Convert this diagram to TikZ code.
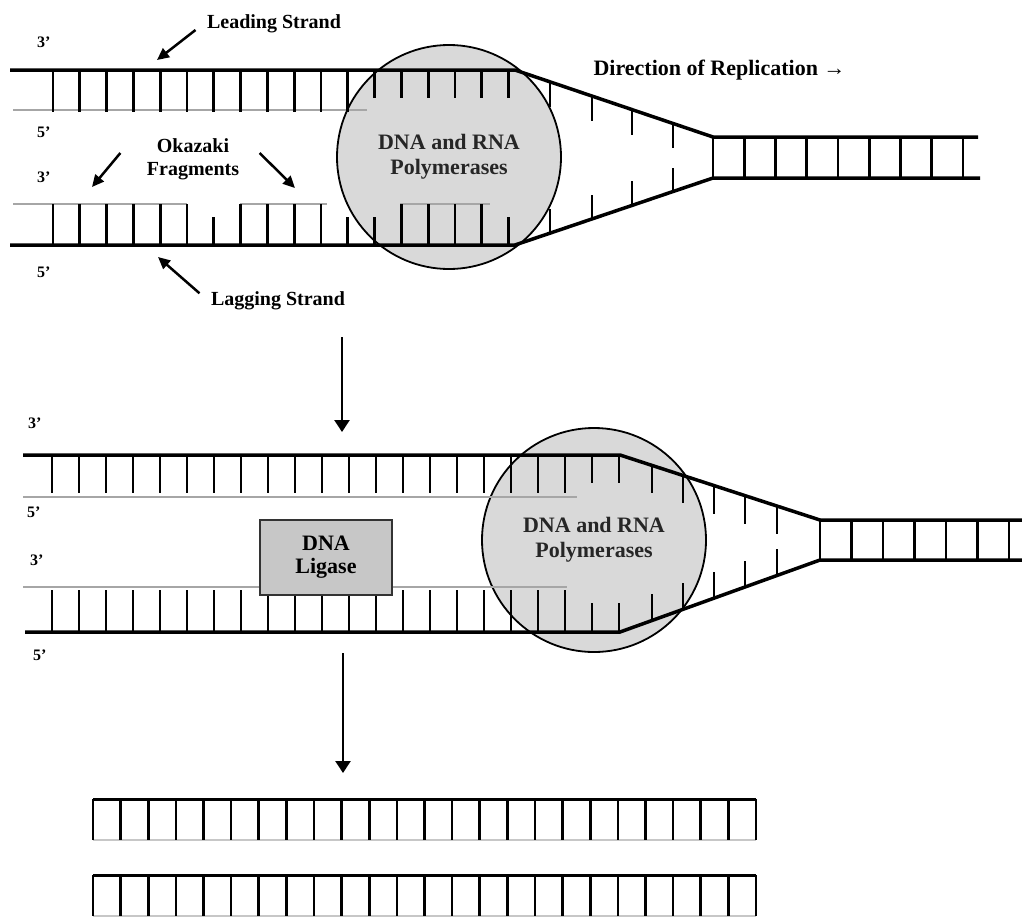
\documentclass[tikz,border=0pt]{standalone}
\usepackage{fontspec}
\setmainfont{Liberation Serif}
\usetikzlibrary{arrows.meta}

\begin{document}
\begin{tikzpicture}[x=1pt, y=-1pt,
strand/.style={line width=3.5pt},
rung/.style={line width=2.8pt},
newstrand/.style={line width=1.5pt, draw=black!35},
poly/.style={circle, draw=black, line width=1.8pt, fill=black!15, minimum size=224pt,
align=center, text=black!85, font=\bfseries\fontsize{22}{25}\selectfont},
ligase/.style={rectangle, draw=black!80, line width=1.8pt, fill=black!22,
minimum width=132pt, minimum height=75pt, align=center, font=\bfseries\fontsize{22}{23}\selectfont},
tag/.style={align=center, font=\bfseries\fontsize{20}{23}\selectfont},
prime/.style={anchor=base west, inner sep=0pt, font=\bfseries\fontsize{16}{18}\selectfont},
line/.style={draw, line width=2.5pt, -{Triangle[length=12pt, width=11pt]}},
bigline/.style={draw, line width=2.5pt, -{Triangle[length=12pt, width=15pt]}}
]
\fill[white] (0,0) rectangle (1022,919);
\useasboundingbox (0,0) rectangle (1022,919);

% replication fork, first stage
\node [poly] (polyA) at (449,157) {DNA and RNA\\Polymerases};
\draw [newstrand] (13,110) -- (367,110);
\draw [strand] (10,70) -- (515,70) -- (713,137) -- (978,137);
\foreach \k in {0,...,17} {
  \pgfmathsetmacro\len{\k<12 ? 42 : 28}
  \draw [rung] (53+26.8*\k,70) -- ++(0,\len);
}
\draw [newstrand] (13,204) -- (187,204) (240,204) -- (327,204) (400,204) -- (490,204);
\draw [strand] (10,245) -- (515,245) -- (713,178) -- (980,178);
\foreach \k in {0,...,17} {
  \pgfmathsetmacro\len{(\k==6 || \k==11 || \k==12 || \k==17) ? 28 : 41}
  \draw [rung] (53+26.8*\k,245) -- ++(0,-\len);
}
\foreach \x in {550,592,632,673} {
  \pgfmathsetmacro\yt{70+(\x-515)*67/198}
  \pgfmathsetmacro\yb{245-(\x-515)*67/198}
  \draw [rung] (\x,\yt) -- ++(0,25);
  \draw [rung] (\x,\yb) -- ++(0,-24);
}
\foreach \k in {0,...,8}
  \draw [rung] (713+31.25*\k,137) -- ++(0,41);

\node [prime] (endA1) at (37,47) {3’};
\node [prime] (endA2) at (37,137) {5’};
\node [prime] (endA3) at (37,182) {3’};
\node [prime] (endA4) at (37,277) {5’};
\node [tag, anchor=base] (lead) at (274,28) {Leading Strand};
\node [tag, anchor=base] (lag) at (278,305) {Lagging Strand};
\node [tag] (oka) at (193,159) {Okazaki\\Fragments};
\node [tag, anchor=base west, font=\bfseries\fontsize{22}{24}\selectfont] (dir) at (590,75)
{Direction of Replication →};

\coordinate (leadtip) at (157,60);
\coordinate (lagtip) at (158,257);
\coordinate (okatipL) at (92,187);
\coordinate (okatipR) at (295,188);
\path [line] ([shift={(-8,2)}]lead.base west) -- (leadtip);
\path [line] ([shift={(-8,-7)}]lag.west) -- (lagtip);
\path [line] ([shift={(-23,-6)}]oka.west) -- (okatipL);
\path [line] ([shift={(17,-6)}]oka.east) -- (okatipR);

\coordinate (arrA) at (342,337);
\coordinate (arrB) at (342,432);
\path [bigline] (arrA) -- (arrB);

% replication fork, second stage
\node [poly] (polyB) at (594,540) {DNA and RNA\\Polymerases};
\draw [newstrand] (23,497) -- (577,497);
\draw [strand] (23,455) -- (620,455) -- (820,520) -- (1022,520);
\foreach \k in {0,...,21} {
  \pgfmathsetmacro\len{\k<20 ? 38 : 28}
  \draw [rung] (52+27*\k,455) -- ++(0,\len);
}
\draw [newstrand] (23,587) -- (567,587);
\draw [strand] (25,632) -- (620,632) -- (820,560) -- (1022,560);
\foreach \k in {0,...,21} {
  \pgfmathsetmacro\len{\k<20 ? 42 : 29}
  \draw [rung] (52+27*\k,632) -- ++(0,-\len);
}
\foreach \x in {652,683,714,745,777} {
  \pgfmathsetmacro\yt{455+(\x-620)*65/200}
  \pgfmathsetmacro\yb{632-(\x-620)*72/200}
  \draw [rung] (\x,\yt) -- ++(0,28);
  \draw [rung] (\x,\yb) -- ++(0,-26);
}
\foreach \k in {0,...,6}
  \draw [rung] (820+31.5*\k,520) -- ++(0,40);
\node [ligase] (lig) at (326,557.5) {DNA\\Ligase};

\node [prime] (endB1) at (28,428) {3’};
\node [prime] (endB2) at (27,517) {5’};
\node [prime] (endB3) at (30,565) {3’};
\node [prime] (endB4) at (33,660) {5’};

\coordinate (arrC) at (343,653);
\coordinate (arrD) at (343,773);
\path [bigline] (arrC) -- (arrD);

% two finished double strands
\foreach \y in {799,875} {
  \draw [newstrand, draw=black!22] (93,\y+41) -- (756,\y+41);
  \draw [strand, line width=3pt] (93,\y) -- (756,\y);
  \foreach \k in {0,...,24}
    \draw [rung, line width=2.6pt] (93+27.625*\k,\y) -- ++(0,41);
}
\end{tikzpicture}
\end{document}
